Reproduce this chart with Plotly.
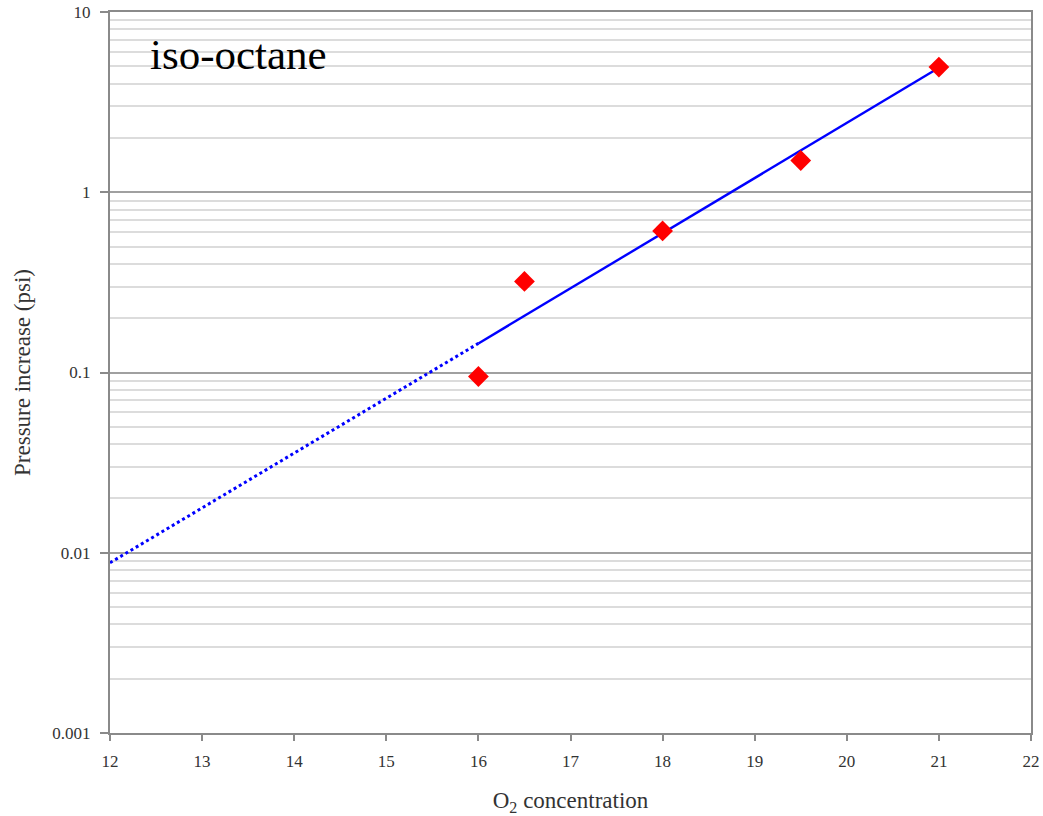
import plotly.graph_objects as go

# Measured data
o2_conc = [16, 16.5, 18, 19.5, 21]
pressure = [0.095, 0.32, 0.61, 1.5, 4.95]

# Exponential trend line (extrapolated part dotted)
trend_ext_x = [12, 16]
trend_ext_y = [0.0088, 0.145]
trend_fit_x = [16, 21]
trend_fit_y = [0.145, 4.9]

x_ticks = list(range(12, 23))
y_tickvals = [0.001, 0.01, 0.1, 1, 10]
y_ticktext = ["0.001", "0.01", "0.1", "1", "10"]

serif = "Liberation Serif"

fig = go.Figure()
fig.add_trace(go.Scatter(x=trend_ext_x, y=trend_ext_y, mode="lines",
                         line=dict(color="#0000ff", width=3, dash="dot"),
                         showlegend=False, hoverinfo="skip"))
fig.add_trace(go.Scatter(x=trend_fit_x, y=trend_fit_y, mode="lines",
                         line=dict(color="#0000ff", width=2.4),
                         showlegend=False, hoverinfo="skip"))
fig.add_trace(go.Scatter(x=o2_conc, y=pressure, mode="markers",
                         marker=dict(symbol="diamond", size=16, color="#ff0000",
                                     line=dict(width=0)),
                         showlegend=False))

fig.update_layout(
    width=1043, height=816,
    margin=dict(l=110, r=12, t=12, b=83),
    paper_bgcolor="white", plot_bgcolor="white",
    font=dict(family=serif, color="#222"),
    xaxis=dict(range=[12, 22], tickvals=x_ticks, showgrid=False, zeroline=False,
               automargin=False,
               showline=True, linecolor="#8a8a8a", linewidth=2, mirror=True,
               ticks="outside", ticklen=6, tickcolor="#8a8a8a", tickwidth=1.5,
               ticklabelstandoff=6,
               tickfont=dict(family=serif, size=17, color="#333"),
               title=dict(text="O<sub>2</sub> concentration",
                          font=dict(family=serif, size=23, color="#333"), standoff=27)),
    yaxis=dict(type="log", range=[-3, 1], tickvals=y_tickvals, ticktext=y_ticktext,
               automargin=False,
               showgrid=True, gridcolor="#a0a0a0", gridwidth=1.5, zeroline=False,
               showline=True, linecolor="#8a8a8a", linewidth=2, mirror=True,
               ticks="outside", ticklen=8, tickcolor="#8a8a8a", tickwidth=1.5,
               ticklabelstandoff=6,
               tickfont=dict(family=serif, size=17, color="#333"),
               minor=dict(dtick="D1", showgrid=True, gridcolor="#dcdcdc", gridwidth=2, ticks=""),
               title=dict(text="Pressure increase (psi)",
                          font=dict(family=serif, size=23, color="#333"), standoff=15)),
    annotations=[dict(text="iso-octane", xref="paper", yref="paper", x=0.041, y=0.976,
                      xanchor="left", yanchor="top", showarrow=False,
                      font=dict(family=serif, size=43, color="black"))],
)

fig.write_html("out.html", config={"displayModeBar": False},
               post_script="document.body.style.margin='0';")
